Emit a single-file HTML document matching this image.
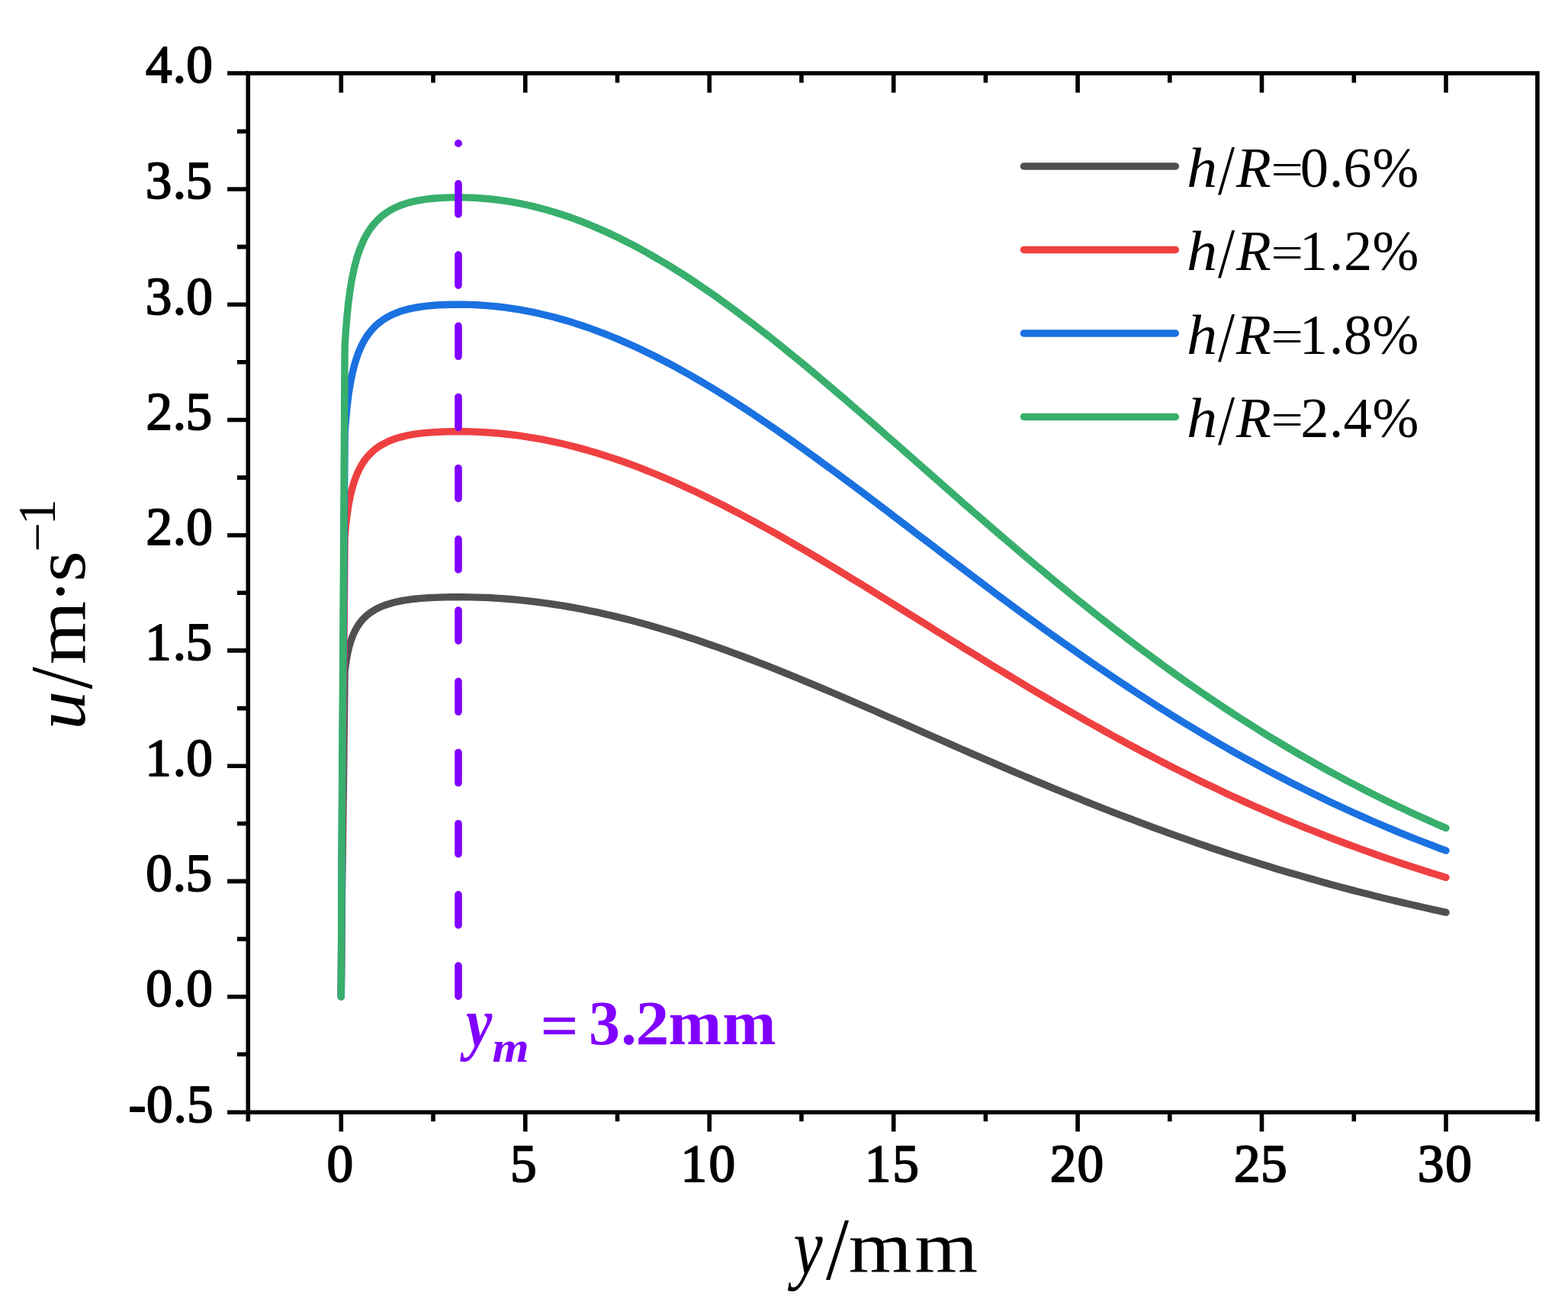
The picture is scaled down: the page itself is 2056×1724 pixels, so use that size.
<!DOCTYPE html><html><head><meta charset="utf-8"><title>Velocity profiles u vs y</title><style>html,body{margin:0;padding:0;background:#fff;overflow:hidden;}svg{display:block;}</style></head><body>
<svg width="2056" height="1724" viewBox="0 0 2056 1724">
<rect width="2056" height="1724" fill="#ffffff"/>
<polyline points="447.3,1306.7 448.4,1178.3 450.5,1021.1 452.1,881.2 452.3,878.6 452.6,876.1 453.0,873.5 453.3,871.0 453.7,868.5 454.1,866.0 454.5,863.5 454.9,861.1 455.4,858.6 455.9,856.2 456.4,853.8 456.9,851.4 457.5,849.0 458.2,846.6 458.8,844.3 459.5,842.0 460.3,839.7 461.0,837.4 461.9,835.2 462.8,832.9 463.7,830.8 464.7,828.6 465.8,826.5 466.9,824.4 468.1,822.3 469.3,820.3 470.7,818.3 472.1,816.3 473.6,814.4 475.2,812.5 476.9,810.7 478.7,808.9 480.6,807.2 482.6,805.5 484.8,803.8 487.1,802.2 489.5,800.7 492.0,799.2 494.8,797.7 497.7,796.3 500.7,795.0 504.0,793.7 507.4,792.5 511.1,791.4 514.9,790.3 519.0,789.3 523.4,788.3 528.0,787.4 532.9,786.6 538.2,785.9 543.7,785.2 549.5,784.6 555.7,784.1 562.3,783.7 569.3,783.4 576.8,783.1 584.6,782.9 593.0,782.8 601.8,782.8 606.7,782.8 615.9,782.9 625.2,783.1 634.5,783.4 643.8,783.8 653.0,784.4 662.3,785.0 671.6,785.8 680.9,786.6 690.1,787.6 699.4,788.7 708.7,789.8 718.0,791.1 727.2,792.5 736.5,793.9 745.8,795.5 755.1,797.2 764.3,798.9 773.6,800.8 782.9,802.7 792.2,804.8 801.4,806.9 810.7,809.1 820.0,811.4 829.3,813.8 838.6,816.3 847.8,818.8 857.1,821.5 866.4,824.2 875.7,827.0 884.9,829.8 894.2,832.8 903.5,835.8 912.8,838.8 922.0,842.0 931.3,845.2 940.6,848.4 949.9,851.7 959.1,855.1 968.4,858.5 977.7,862.0 987.0,865.5 996.2,869.1 1005.5,872.7 1014.8,876.4 1024.1,880.1 1033.3,883.9 1042.6,887.6 1051.9,891.5 1061.2,895.3 1070.4,899.2 1079.7,903.1 1089.0,907.0 1098.3,911.0 1107.6,915.0 1116.8,919.0 1126.1,923.0 1135.4,927.0 1144.7,931.0 1153.9,935.1 1163.2,939.2 1172.5,943.2 1181.8,947.3 1191.0,951.4 1200.3,955.5 1209.6,959.6 1218.9,963.7 1228.1,967.7 1237.4,971.8 1246.7,975.9 1256.0,980.0 1265.2,984.0 1274.5,988.1 1283.8,992.1 1293.1,996.1 1302.3,1000.1 1311.6,1004.1 1320.9,1008.1 1330.2,1012.1 1339.4,1016.0 1348.7,1019.9 1358.0,1023.8 1367.3,1027.7 1376.6,1031.6 1385.8,1035.4 1395.1,1039.2 1404.4,1043.0 1413.7,1046.7 1422.9,1050.5 1432.2,1054.1 1441.5,1057.8 1450.8,1061.5 1460.0,1065.1 1469.3,1068.6 1478.6,1072.2 1487.9,1075.7 1497.1,1079.2 1506.4,1082.6 1515.7,1086.1 1525.0,1089.4 1534.2,1092.8 1543.5,1096.1 1552.8,1099.4 1562.1,1102.6 1571.3,1105.9 1580.6,1109.0 1589.9,1112.2 1599.2,1115.3 1608.4,1118.4 1617.7,1121.4 1627.0,1124.4 1636.3,1127.4 1645.6,1130.3 1654.8,1133.2 1664.1,1136.0 1673.4,1138.9 1682.7,1141.7 1691.9,1144.4 1701.2,1147.1 1710.5,1149.8 1719.8,1152.4 1729.0,1155.0 1738.3,1157.6 1747.6,1160.2 1756.9,1162.7 1766.1,1165.1 1775.4,1167.6 1784.7,1170.0 1794.0,1172.3 1803.2,1174.7 1812.5,1177.0 1821.8,1179.2 1831.1,1181.4 1840.3,1183.6 1849.6,1185.8 1858.9,1187.9 1868.2,1190.0 1877.4,1192.1 1886.7,1194.1 1896.0,1196.2" fill="none" stroke="#505050" stroke-width="9.4" stroke-linecap="round" stroke-linejoin="round"/>
<polyline points="447.3,1306.7 448.4,1125.1 450.5,902.9 452.1,704.9 452.3,701.3 452.6,697.7 453.0,694.1 453.3,690.6 453.7,687.0 454.1,683.5 454.5,680.0 454.9,676.5 455.4,673.0 455.9,669.6 456.4,666.2 456.9,662.8 457.5,659.4 458.2,656.1 458.8,652.7 459.5,649.5 460.3,646.2 461.0,643.0 461.9,639.8 462.8,636.7 463.7,633.6 464.7,630.6 465.8,627.6 466.9,624.6 468.1,621.7 469.3,618.8 470.7,616.0 472.1,613.2 473.6,610.5 475.2,607.9 476.9,605.3 478.7,602.7 480.6,600.3 482.6,597.9 484.8,595.5 487.1,593.3 489.5,591.1 492.0,588.9 494.8,586.9 497.7,584.9 500.7,583.1 504.0,581.3 507.4,579.5 511.1,577.9 514.9,576.4 519.0,574.9 523.4,573.6 528.0,572.4 532.9,571.2 538.2,570.2 543.7,569.2 549.5,568.4 555.7,567.7 562.3,567.1 569.3,566.6 576.8,566.2 584.6,565.9 593.0,565.8 601.8,565.7 606.7,565.8 615.9,565.9 625.2,566.2 634.5,566.7 643.8,567.3 653.0,568.0 662.3,569.0 671.6,570.0 680.9,571.2 690.1,572.6 699.4,574.1 708.7,575.7 718.0,577.5 727.2,579.5 736.5,581.5 745.8,583.8 755.1,586.1 764.3,588.6 773.6,591.2 782.9,594.0 792.2,596.9 801.4,599.9 810.7,603.0 820.0,606.3 829.3,609.7 838.6,613.2 847.8,616.8 857.1,620.5 866.4,624.3 875.7,628.3 884.9,632.3 894.2,636.5 903.5,640.7 912.8,645.0 922.0,649.5 931.3,654.0 940.6,658.6 949.9,663.3 959.1,668.1 968.4,672.9 977.7,677.8 987.0,682.8 996.2,687.9 1005.5,693.0 1014.8,698.2 1024.1,703.4 1033.3,708.7 1042.6,714.1 1051.9,719.5 1061.2,724.9 1070.4,730.4 1079.7,735.9 1089.0,741.5 1098.3,747.1 1107.6,752.7 1116.8,758.4 1126.1,764.0 1135.4,769.7 1144.7,775.5 1153.9,781.2 1163.2,786.9 1172.5,792.7 1181.8,798.5 1191.0,804.2 1200.3,810.0 1209.6,815.8 1218.9,821.6 1228.1,827.4 1237.4,833.1 1246.7,838.9 1256.0,844.6 1265.2,850.4 1274.5,856.1 1283.8,861.8 1293.1,867.5 1302.3,873.2 1311.6,878.8 1320.9,884.4 1330.2,890.0 1339.4,895.6 1348.7,901.2 1358.0,906.7 1367.3,912.1 1376.6,917.6 1385.8,923.0 1395.1,928.4 1404.4,933.7 1413.7,939.0 1422.9,944.3 1432.2,949.5 1441.5,954.7 1450.8,959.9 1460.0,965.0 1469.3,970.0 1478.6,975.1 1487.9,980.0 1497.1,985.0 1506.4,989.8 1515.7,994.7 1525.0,999.5 1534.2,1004.2 1543.5,1008.9 1552.8,1013.5 1562.1,1018.1 1571.3,1022.7 1580.6,1027.2 1589.9,1031.6 1599.2,1036.0 1608.4,1040.4 1617.7,1044.7 1627.0,1048.9 1636.3,1053.1 1645.6,1057.2 1654.8,1061.3 1664.1,1065.4 1673.4,1069.4 1682.7,1073.3 1691.9,1077.2 1701.2,1081.0 1710.5,1084.8 1719.8,1088.5 1729.0,1092.2 1738.3,1095.9 1747.6,1099.5 1756.9,1103.0 1766.1,1106.5 1775.4,1109.9 1784.7,1113.3 1794.0,1116.7 1803.2,1120.0 1812.5,1123.2 1821.8,1126.4 1831.1,1129.6 1840.3,1132.7 1849.6,1135.7 1858.9,1138.8 1868.2,1141.7 1877.4,1144.7 1886.7,1147.5 1896.0,1150.4" fill="none" stroke="#EF4041" stroke-width="9.4" stroke-linecap="round" stroke-linejoin="round"/>
<polyline points="447.3,1306.7 448.4,1084.3 450.5,812.1 452.1,569.7 452.3,565.3 452.6,560.9 453.0,556.5 453.3,552.1 453.7,547.8 454.1,543.4 454.5,539.1 454.9,534.9 455.4,530.6 455.9,526.4 456.4,522.2 456.9,518.0 457.5,513.9 458.2,509.8 458.8,505.8 459.5,501.8 460.3,497.8 461.0,493.9 461.9,490.0 462.8,486.1 463.7,482.3 464.7,478.6 465.8,474.9 466.9,471.3 468.1,467.7 469.3,464.2 470.7,460.8 472.1,457.4 473.6,454.1 475.2,450.8 476.9,447.6 478.7,444.5 480.6,441.5 482.6,438.6 484.8,435.7 487.1,432.9 489.5,430.2 492.0,427.6 494.8,425.1 497.7,422.7 500.7,420.4 504.0,418.2 507.4,416.1 511.1,414.1 514.9,412.3 519.0,410.5 523.4,408.8 528.0,407.3 532.9,405.9 538.2,404.6 543.7,403.5 549.5,402.5 555.7,401.6 562.3,400.9 569.3,400.3 576.8,399.8 584.6,399.5 593.0,399.3 601.8,399.2 606.7,399.2 615.9,399.4 625.2,399.8 634.5,400.4 643.8,401.1 653.0,402.0 662.3,403.2 671.6,404.5 680.9,405.9 690.1,407.6 699.4,409.4 708.7,411.5 718.0,413.7 727.2,416.0 736.5,418.6 745.8,421.3 755.1,424.2 764.3,427.2 773.6,430.4 782.9,433.8 792.2,437.3 801.4,441.0 810.7,444.9 820.0,448.9 829.3,453.0 838.6,457.3 847.8,461.7 857.1,466.3 866.4,471.0 875.7,475.8 884.9,480.7 894.2,485.8 903.5,491.0 912.8,496.3 922.0,501.8 931.3,507.3 940.6,513.0 949.9,518.7 959.1,524.5 968.4,530.5 977.7,536.5 987.0,542.6 996.2,548.8 1005.5,555.1 1014.8,561.4 1024.1,567.9 1033.3,574.3 1042.6,580.9 1051.9,587.5 1061.2,594.2 1070.4,600.9 1079.7,607.7 1089.0,614.5 1098.3,621.3 1107.6,628.2 1116.8,635.1 1126.1,642.1 1135.4,649.1 1144.7,656.1 1153.9,663.1 1163.2,670.1 1172.5,677.2 1181.8,684.3 1191.0,691.3 1200.3,698.4 1209.6,705.5 1218.9,712.6 1228.1,719.6 1237.4,726.7 1246.7,733.7 1256.0,740.8 1265.2,747.8 1274.5,754.8 1283.8,761.8 1293.1,768.8 1302.3,775.7 1311.6,782.7 1320.9,789.5 1330.2,796.4 1339.4,803.2 1348.7,810.0 1358.0,816.8 1367.3,823.5 1376.6,830.2 1385.8,836.8 1395.1,843.4 1404.4,849.9 1413.7,856.4 1422.9,862.9 1432.2,869.3 1441.5,875.6 1450.8,881.9 1460.0,888.2 1469.3,894.4 1478.6,900.5 1487.9,906.6 1497.1,912.7 1506.4,918.6 1515.7,924.6 1525.0,930.4 1534.2,936.2 1543.5,942.0 1552.8,947.7 1562.1,953.3 1571.3,958.8 1580.6,964.4 1589.9,969.8 1599.2,975.2 1608.4,980.5 1617.7,985.8 1627.0,991.0 1636.3,996.1 1645.6,1001.2 1654.8,1006.2 1664.1,1011.1 1673.4,1016.0 1682.7,1020.8 1691.9,1025.6 1701.2,1030.3 1710.5,1034.9 1719.8,1039.5 1729.0,1044.0 1738.3,1048.5 1747.6,1052.9 1756.9,1057.2 1766.1,1061.5 1775.4,1065.7 1784.7,1069.9 1794.0,1074.0 1803.2,1078.0 1812.5,1082.0 1821.8,1085.9 1831.1,1089.8 1840.3,1093.6 1849.6,1097.3 1858.9,1101.0 1868.2,1104.7 1877.4,1108.2 1886.7,1111.8 1896.0,1115.2" fill="none" stroke="#1A71E0" stroke-width="9.4" stroke-linecap="round" stroke-linejoin="round"/>
<polyline points="447.3,1306.7 448.4,1050.0 450.5,735.6 452.1,455.7 452.3,450.6 452.6,445.5 453.0,440.4 453.3,435.4 453.7,430.4 454.1,425.4 454.5,420.4 454.9,415.5 455.4,410.6 455.9,405.7 456.4,400.8 456.9,396.0 457.5,391.3 458.2,386.6 458.8,381.9 459.5,377.2 460.3,372.7 461.0,368.1 461.9,363.6 462.8,359.2 463.7,354.8 464.7,350.5 465.8,346.3 466.9,342.1 468.1,337.9 469.3,333.9 470.7,329.9 472.1,326.0 473.6,322.2 475.2,318.4 476.9,314.7 478.7,311.2 480.6,307.7 482.6,304.3 484.8,301.0 487.1,297.8 489.5,294.7 492.0,291.7 494.8,288.8 497.7,286.0 500.7,283.3 504.0,280.8 507.4,278.4 511.1,276.1 514.9,273.9 519.0,271.9 523.4,270.0 528.0,268.2 532.9,266.6 538.2,265.1 543.7,263.8 549.5,262.6 555.7,261.6 562.3,260.7 569.3,260.0 576.8,259.5 584.6,259.1 593.0,258.9 601.8,258.8 606.7,258.9 615.9,259.1 625.2,259.5 634.5,260.2 643.8,261.0 653.0,262.1 662.3,263.4 671.6,264.9 680.9,266.6 690.1,268.5 699.4,270.6 708.7,273.0 718.0,275.5 727.2,278.2 736.5,281.2 745.8,284.3 755.1,287.6 764.3,291.2 773.6,294.9 782.9,298.8 792.2,302.9 801.4,307.1 810.7,311.5 820.0,316.2 829.3,320.9 838.6,325.9 847.8,331.0 857.1,336.3 866.4,341.7 875.7,347.3 884.9,353.0 894.2,358.8 903.5,364.8 912.8,371.0 922.0,377.3 931.3,383.6 940.6,390.2 949.9,396.8 959.1,403.5 968.4,410.4 977.7,417.4 987.0,424.4 996.2,431.6 1005.5,438.8 1014.8,446.1 1024.1,453.6 1033.3,461.1 1042.6,468.6 1051.9,476.2 1061.2,483.9 1070.4,491.7 1079.7,499.5 1089.0,507.4 1098.3,515.3 1107.6,523.2 1116.8,531.2 1126.1,539.3 1135.4,547.3 1144.7,555.4 1153.9,563.5 1163.2,571.7 1172.5,579.8 1181.8,588.0 1191.0,596.1 1200.3,604.3 1209.6,612.5 1218.9,620.6 1228.1,628.8 1237.4,637.0 1246.7,645.1 1256.0,653.2 1265.2,661.4 1274.5,669.5 1283.8,677.5 1293.1,685.6 1302.3,693.6 1311.6,701.6 1320.9,709.5 1330.2,717.5 1339.4,725.3 1348.7,733.2 1358.0,741.0 1367.3,748.7 1376.6,756.4 1385.8,764.1 1395.1,771.7 1404.4,779.3 1413.7,786.8 1422.9,794.2 1432.2,801.6 1441.5,809.0 1450.8,816.2 1460.0,823.5 1469.3,830.6 1478.6,837.7 1487.9,844.7 1497.1,851.7 1506.4,858.6 1515.7,865.4 1525.0,872.2 1534.2,878.9 1543.5,885.6 1552.8,892.1 1562.1,898.6 1571.3,905.0 1580.6,911.4 1589.9,917.7 1599.2,923.9 1608.4,930.0 1617.7,936.1 1627.0,942.1 1636.3,948.0 1645.6,953.9 1654.8,959.7 1664.1,965.4 1673.4,971.1 1682.7,976.6 1691.9,982.1 1701.2,987.6 1710.5,992.9 1719.8,998.2 1729.0,1003.4 1738.3,1008.6 1747.6,1013.6 1756.9,1018.6 1766.1,1023.6 1775.4,1028.4 1784.7,1033.2 1794.0,1038.0 1803.2,1042.6 1812.5,1047.2 1821.8,1051.8 1831.1,1056.2 1840.3,1060.6 1849.6,1064.9 1858.9,1069.2 1868.2,1073.4 1877.4,1077.5 1886.7,1081.6 1896.0,1085.6" fill="none" stroke="#38AF6C" stroke-width="9.4" stroke-linecap="round" stroke-linejoin="round"/>
<path d="M601.0 1306.1V1266.1M601.0 1212.9V1172.9M601.0 1119.7V1079.7M601.0 1026.5V986.5M601.0 933.3V893.3M601.0 840.1V800.1M601.0 746.9V706.9M601.0 653.7V613.7M601.0 560.5V520.5M601.0 467.3V427.3M601.0 374.1V334.1M601.0 280.9V240.9" stroke="#8000FF" stroke-width="9.6" stroke-linecap="round" fill="none"/>
<circle cx="601.0" cy="188" r="5.0" fill="#8000FF"/>
<path d="M325.3 96.0 H2015.9 V1458.2 H325.3 Z" fill="none" stroke="#000" stroke-width="5.6" stroke-linejoin="miter"/>
<path d="M298.1 1458.2H325.3M298.1 1306.7H325.3M298.1 1155.4H325.3M298.1 1004.2H325.3M298.1 852.9H325.3M298.1 701.7H325.3M298.1 550.5H325.3M298.1 399.2H325.3M298.1 248.0H325.3M298.1 96.0H325.3M311.0 1382.3H325.3M311.0 1231.1H325.3M311.0 1079.8H325.3M311.0 928.6H325.3M311.0 777.3H325.3M311.0 626.1H325.3M311.0 474.8H325.3M311.0 323.6H325.3M311.0 172.3H325.3M447.3 96.0V121.6M447.3 1458.2V1483.6M688.8 96.0V121.6M688.8 1458.2V1483.6M930.2 96.0V121.6M930.2 1458.2V1483.6M1171.7 96.0V121.6M1171.7 1458.2V1483.6M1413.1 96.0V121.6M1413.1 1458.2V1483.6M1654.5 96.0V121.6M1654.5 1458.2V1483.6M1896.0 96.0V121.6M1896.0 1458.2V1483.6M325.3 1458.2V1470.2M568.0 96.0V108.4M568.0 1458.2V1470.2M809.5 96.0V108.4M809.5 1458.2V1470.2M1050.9 96.0V108.4M1050.9 1458.2V1470.2M1292.4 96.0V108.4M1292.4 1458.2V1470.2M1533.8 96.0V108.4M1533.8 1458.2V1470.2M1775.3 96.0V108.4M1775.3 1458.2V1470.2M2015.9 1458.2V1470.2" fill="none" stroke="#000" stroke-width="5.6"/>
<line x1="1342.4" y1="218.0" x2="1541.4" y2="218.0" stroke="#505050" stroke-width="9.4" stroke-linecap="round"/>
<line x1="1342.4" y1="327.5" x2="1541.4" y2="327.5" stroke="#EF4041" stroke-width="9.4" stroke-linecap="round"/>
<line x1="1342.4" y1="437.0" x2="1541.4" y2="437.0" stroke="#1A71E0" stroke-width="9.4" stroke-linecap="round"/>
<line x1="1342.4" y1="546.5" x2="1541.4" y2="546.5" stroke="#38AF6C" stroke-width="9.4" stroke-linecap="round"/>
<g font-family="Liberation Serif, serif" fill="#000" stroke="#000" stroke-width="2.00" stroke-linejoin="round"><text transform="matrix(0.96040,0,0,0.96040,168.56,1470.52)" font-size="72">-</text><text transform="matrix(0.96040,0,0,0.96040,191.91,1470.52)" font-size="72">0</text><text transform="matrix(0.96040,0,0,0.96040,227.56,1470.52)" font-size="72">.</text><text transform="matrix(0.96040,0,0,0.96040,245.09,1470.52)" font-size="72">5</text></g>
<g font-family="Liberation Serif, serif" fill="#000" stroke="#000" stroke-width="2.00" stroke-linejoin="round"><text transform="matrix(0.96040,0,0,0.96040,191.21,1319.00)" font-size="72">0</text><text transform="matrix(0.96040,0,0,0.96040,226.76,1319.00)" font-size="72">.</text><text transform="matrix(0.96040,0,0,0.96040,244.31,1319.00)" font-size="72">0</text></g>
<g font-family="Liberation Serif, serif" fill="#000" stroke="#000" stroke-width="2.00" stroke-linejoin="round"><text transform="matrix(0.96040,0,0,0.96040,191.21,1167.75)" font-size="72">0</text><text transform="matrix(0.96040,0,0,0.96040,226.76,1167.75)" font-size="72">.</text><text transform="matrix(0.96040,0,0,0.96040,243.59,1167.75)" font-size="72">5</text></g>
<g font-family="Liberation Serif, serif" fill="#000" stroke="#000" stroke-width="2.00" stroke-linejoin="round"><text transform="matrix(0.96040,0,0,0.96040,190.25,1016.51)" font-size="72">1</text><text transform="matrix(0.96040,0,0,0.96040,226.76,1016.51)" font-size="72">.</text><text transform="matrix(0.96040,0,0,0.96040,244.31,1016.51)" font-size="72">0</text></g>
<g font-family="Liberation Serif, serif" fill="#000" stroke="#000" stroke-width="2.00" stroke-linejoin="round"><text transform="matrix(0.96040,0,0,0.96040,190.25,865.26)" font-size="72">1</text><text transform="matrix(0.96040,0,0,0.96040,226.76,865.26)" font-size="72">.</text><text transform="matrix(0.96040,0,0,0.96040,243.59,865.26)" font-size="72">5</text></g>
<g font-family="Liberation Serif, serif" fill="#000" stroke="#000" stroke-width="2.00" stroke-linejoin="round"><text transform="matrix(0.96040,0,0,0.96040,191.57,714.02)" font-size="72">2</text><text transform="matrix(0.96040,0,0,0.96040,226.76,714.02)" font-size="72">.</text><text transform="matrix(0.96040,0,0,0.96040,244.31,714.02)" font-size="72">0</text></g>
<g font-family="Liberation Serif, serif" fill="#000" stroke="#000" stroke-width="2.00" stroke-linejoin="round"><text transform="matrix(0.96040,0,0,0.96040,191.57,562.77)" font-size="72">2</text><text transform="matrix(0.96040,0,0,0.96040,226.76,562.77)" font-size="72">.</text><text transform="matrix(0.96040,0,0,0.96040,243.59,562.77)" font-size="72">5</text></g>
<g font-family="Liberation Serif, serif" fill="#000" stroke="#000" stroke-width="2.00" stroke-linejoin="round"><text transform="matrix(0.96040,0,0,0.96040,190.85,411.53)" font-size="72">3</text><text transform="matrix(0.96040,0,0,0.96040,226.76,411.53)" font-size="72">.</text><text transform="matrix(0.96040,0,0,0.96040,244.31,411.53)" font-size="72">0</text></g>
<g font-family="Liberation Serif, serif" fill="#000" stroke="#000" stroke-width="2.00" stroke-linejoin="round"><text transform="matrix(0.96040,0,0,0.96040,190.85,260.28)" font-size="72">3</text><text transform="matrix(0.96040,0,0,0.96040,226.76,260.28)" font-size="72">.</text><text transform="matrix(0.96040,0,0,0.96040,243.59,260.28)" font-size="72">5</text></g>
<g font-family="Liberation Serif, serif" fill="#000" stroke="#000" stroke-width="2.00" stroke-linejoin="round"><text transform="matrix(0.96040,0,0,0.96040,190.97,108.32)" font-size="72">4</text><text transform="matrix(0.96040,0,0,0.96040,226.76,108.32)" font-size="72">.</text><text transform="matrix(0.96040,0,0,0.96040,244.31,108.32)" font-size="72">0</text></g>
<g font-family="Liberation Serif, serif" fill="#000" stroke="#000" stroke-width="2.00" stroke-linejoin="round"><text transform="matrix(0.96238,0,0,0.96238,428.38,1549.12)" font-size="72">0</text></g>
<g font-family="Liberation Serif, serif" fill="#000" stroke="#000" stroke-width="2.00" stroke-linejoin="round"><text transform="matrix(0.96238,0,0,0.96238,669.11,1549.12)" font-size="72">5</text></g>
<g font-family="Liberation Serif, serif" fill="#000" stroke="#000" stroke-width="2.00" stroke-linejoin="round"><text transform="matrix(0.96238,0,0,0.96238,892.41,1549.12)" font-size="72">1</text><text transform="matrix(0.96238,0,0,0.96238,929.48,1549.12)" font-size="72">0</text></g>
<g font-family="Liberation Serif, serif" fill="#000" stroke="#000" stroke-width="2.00" stroke-linejoin="round"><text transform="matrix(0.96238,0,0,0.96238,1133.86,1549.12)" font-size="72">1</text><text transform="matrix(0.96238,0,0,0.96238,1170.21,1549.12)" font-size="72">5</text></g>
<g font-family="Liberation Serif, serif" fill="#000" stroke="#000" stroke-width="2.00" stroke-linejoin="round"><text transform="matrix(0.96238,0,0,0.96238,1376.64,1549.12)" font-size="72">2</text><text transform="matrix(0.96238,0,0,0.96238,1412.38,1549.12)" font-size="72">0</text></g>
<g font-family="Liberation Serif, serif" fill="#000" stroke="#000" stroke-width="2.00" stroke-linejoin="round"><text transform="matrix(0.96238,0,0,0.96238,1618.09,1549.12)" font-size="72">2</text><text transform="matrix(0.96238,0,0,0.96238,1653.11,1549.12)" font-size="72">5</text></g>
<g font-family="Liberation Serif, serif" fill="#000" stroke="#000" stroke-width="2.00" stroke-linejoin="round"><text transform="matrix(0.96238,0,0,0.96238,1858.82,1549.12)" font-size="72">3</text><text transform="matrix(0.96238,0,0,0.96238,1895.28,1549.12)" font-size="72">0</text></g>
<g font-family="Liberation Serif, serif" fill="#000"><text transform="matrix(1.08800,0,0,1.00800,1556.11,244.64)" font-size="74" font-style="italic">h</text><text transform="matrix(1.07317,0,0,1.25051,1597.00,253.76)" font-size="74">/</text><text transform="matrix(1.01124,0,0,1.00800,1621.01,244.64)" font-size="74" font-style="italic">R</text><text transform="matrix(1.01606,0,0,0.80000,1666.49,241.80)" font-size="74">=</text><text transform="matrix(1.00800,0,0,1.00800,1704.85,244.64)" font-size="74">0</text><text transform="matrix(1.00800,0,0,1.00800,1742.68,244.64)" font-size="74">.</text><text transform="matrix(1.00800,0,0,1.00800,1761.15,244.64)" font-size="74">6</text><text transform="matrix(0.98761,0,0,1.00800,1799.43,244.64)" font-size="74">%</text></g>
<g font-family="Liberation Serif, serif" fill="#000"><text transform="matrix(1.08800,0,0,1.00800,1556.11,354.14)" font-size="74" font-style="italic">h</text><text transform="matrix(1.07317,0,0,1.25051,1597.00,363.26)" font-size="74">/</text><text transform="matrix(1.01124,0,0,1.00800,1621.01,354.14)" font-size="74" font-style="italic">R</text><text transform="matrix(1.01606,0,0,0.80000,1666.49,351.30)" font-size="74">=</text><text transform="matrix(1.00800,0,0,1.00800,1703.84,354.14)" font-size="74">1</text><text transform="matrix(1.00800,0,0,1.00800,1742.68,354.14)" font-size="74">.</text><text transform="matrix(1.00800,0,0,1.00800,1762.03,354.14)" font-size="74">2</text><text transform="matrix(0.98761,0,0,1.00800,1799.43,354.14)" font-size="74">%</text></g>
<g font-family="Liberation Serif, serif" fill="#000"><text transform="matrix(1.08800,0,0,1.00800,1556.11,463.64)" font-size="74" font-style="italic">h</text><text transform="matrix(1.07317,0,0,1.25051,1597.00,472.76)" font-size="74">/</text><text transform="matrix(1.01124,0,0,1.00800,1621.01,463.64)" font-size="74" font-style="italic">R</text><text transform="matrix(1.01606,0,0,0.80000,1666.49,460.80)" font-size="74">=</text><text transform="matrix(1.00800,0,0,1.00800,1703.84,463.64)" font-size="74">1</text><text transform="matrix(1.00800,0,0,1.00800,1742.68,463.64)" font-size="74">.</text><text transform="matrix(1.00800,0,0,1.00800,1761.65,463.64)" font-size="74">8</text><text transform="matrix(0.98761,0,0,1.00800,1799.43,463.64)" font-size="74">%</text></g>
<g font-family="Liberation Serif, serif" fill="#000"><text transform="matrix(1.08800,0,0,1.00800,1556.11,573.14)" font-size="74" font-style="italic">h</text><text transform="matrix(1.07317,0,0,1.25051,1597.00,582.26)" font-size="74">/</text><text transform="matrix(1.01124,0,0,1.00800,1621.01,573.14)" font-size="74" font-style="italic">R</text><text transform="matrix(1.01606,0,0,0.80000,1666.49,570.30)" font-size="74">=</text><text transform="matrix(1.00800,0,0,1.00800,1705.23,573.14)" font-size="74">2</text><text transform="matrix(1.00800,0,0,1.00800,1742.68,573.14)" font-size="74">.</text><text transform="matrix(1.00800,0,0,1.00800,1761.53,573.14)" font-size="74">4</text><text transform="matrix(0.98761,0,0,1.00800,1799.43,573.14)" font-size="74">%</text></g>
<g font-family="Liberation Serif, serif" fill="#000"><text transform="matrix(0.87464,0,0,1.06667,1040.37,1670.33)" font-size="99" font-style="italic">y</text><text transform="matrix(1.09455,0,0,1.18642,1082.95,1677.11)" font-size="99">/</text><text transform="matrix(1.07755,0,0,0.95269,1112.74,1666.60)" font-size="99">m</text><text transform="matrix(1.07755,0,0,0.95269,1199.14,1666.60)" font-size="99">m</text></g>
<g font-family="Liberation Serif, serif" fill="#000"><text transform="matrix(0,-1.03067,0.95484,0,110.80,956.65)" font-size="99" font-style="italic">u</text><text transform="matrix(0,-1.06182,1.18038,0,119.82,903.50)" font-size="99">/</text><text transform="matrix(0,-1.08299,0.95484,0,110.80,871.27)" font-size="99">m</text><text transform="matrix(0,-0.95484,0.95484,0,110.80,791.05)" font-size="99">·</text><text transform="matrix(0,-1.04839,0.95484,0,110.80,762.84)" font-size="99">s</text></g>
<g font-family="Liberation Serif, serif" fill="#000"><text transform="matrix(0,-1.04138,1.04138,0,71.60,723.40)" font-size="66">−</text><text transform="matrix(0,-1.04138,1.04138,0,71.60,688.39)" font-size="66">1</text></g>
<g font-family="Liberation Serif, serif" fill="#8000FF"><text transform="matrix(0.99858,0,0,1.00182,771.90,1368.75)" font-size="82" font-weight="bold">3</text><text transform="matrix(1.00182,0,0,1.00182,814.23,1368.75)" font-size="82" font-weight="bold">.</text><text transform="matrix(1.07059,0,0,1.00182,833.55,1368.75)" font-size="82" font-weight="bold">2</text><text transform="matrix(1.01931,0,0,1.00182,876.41,1368.75)" font-size="82" font-weight="bold">m</text><text transform="matrix(1.02857,0,0,1.00182,947.29,1368.75)" font-size="82" font-weight="bold">m</text></g>
<g transform="matrix(0.87708,0,0,1.05378,611.07,1371.88)" fill="#8000FF" color="#8000FF"><text font-family="Liberation Serif, serif" font-size="88" font-style="italic" font-weight="bold">y</text></g>
<g transform="matrix(0.99773,0,0,0.91624,645.55,1391.90)" fill="#8000FF" color="#8000FF"><text font-family="Liberation Serif, serif" font-size="62" font-style="italic" font-weight="bold">m</text></g>
<g transform="matrix(1.07451,0,0,1.01573,708.60,1372.05)" fill="#8000FF" color="#8000FF"><text font-family="Liberation Serif, serif" font-size="82" font-weight="bold">=</text></g>
</svg></body></html>
